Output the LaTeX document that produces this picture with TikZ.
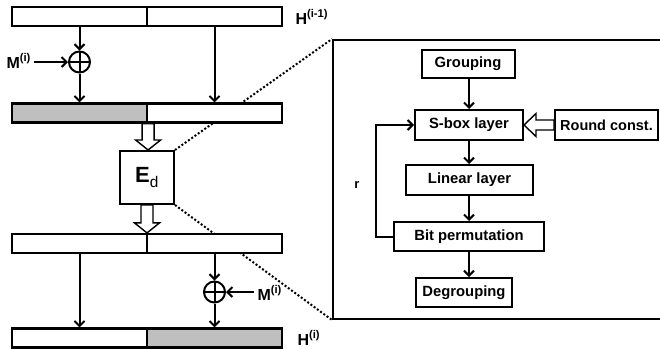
\documentclass[tikz,border=0pt]{standalone}
\usepackage{fontspec}
\setmainfont{Liberation Sans}
\usepackage{tikz}
\usetikzlibrary{arrows.meta, calc, backgrounds}

% hollow block arrows
\newcommand{\hollowdown}[2]{%
  \draw[hollow] let \p1=(#1), \p2=(#2) in
    (\x1-6pt,\y1) -- (\x1-6pt,\y2+10pt) -- (\x1-12.5pt,\y2+10pt) -- (\x1,\y2)
    -- (\x1+12.5pt,\y2+10pt) -- (\x1+6pt,\y2+10pt) -- (\x1+6pt,\y1) -- cycle;}
\newcommand{\hollowleft}[2]{%
  \draw[hollow] let \p1=(#1), \p2=(#2) in
    (\x1,\y1+5pt) -- (\x2+12pt,\y1+5pt) -- (\x2+12pt,\y1+11.5pt) -- (\x2,\y1)
    -- (\x2+12pt,\y1-11.5pt) -- (\x2+12pt,\y1-5pt) -- (\x1,\y1-5pt) -- cycle;}

\begin{document}
\begin{tikzpicture}[x=1pt, y=-1pt,
    every node/.style={font=\bfseries\fontsize{16}{18}\selectfont},
    half/.style={draw, line width=2.2pt, fill=white, minimum width=135pt, minimum height=19pt, inner sep=0pt},
    shaded/.style={half, fill=gray!50},
    xor/.style={draw, circle, line width=2pt, minimum size=21pt, inner sep=0pt,
      path picture={\draw[line width=2pt] (path picture bounding box.north) -- (path picture bounding box.south)
        (path picture bounding box.west) -- (path picture bounding box.east);}},
    blk/.style={draw, line width=2pt, fill=white, minimum height=30pt, inner sep=0pt,
      font=\bfseries\fontsize{14.8}{17}\selectfont},
    hollow/.style={draw, line width=1.4pt, fill=white, line join=miter},
    conn/.style={line width=2pt, -{Straight Barb[length=5pt,width=10pt]}},
    dots/.style={line width=2pt, dotted}]
  \useasboundingbox (0,0) rectangle (660,349);

  % chaining value bars
  \node[half] (h0l) at (79.5,16.5) {};
  \node[half] (h0r) at (214.5,16.5) {};
  \node[shaded] (s1l) at (79.5,113) {};
  \node[half] (s1r) at (214.5,113) {};
  \node[half] (s2l) at (79.5,243.5) {};
  \node[half] (s2r) at (214.5,243.5) {};
  \node[half] (h1l) at (79.5,338) {};
  \node[shaded] (h1r) at (214.5,338) {};

  \node[anchor=base west] (hin) at (292,24) {H\textsuperscript{(i-1)}};
  \node[anchor=base west] (hout) at (294,345) {H\textsuperscript{(i)}};

  % message injection
  \node[xor] (xin) at (79.5,62) {};
  \node[anchor=base west] (min) at (3,68) {M\textsuperscript{(i)}};
  \node[xor] (xout) at (214.5,292) {};
  \node[anchor=base west] (mout) at (254,300) {M\textsuperscript{(i)}};

  \draw[conn] (h0l.south) -- (xin.north);
  \draw[conn] (xin.south) -- (s1l.north);
  \draw[conn] (xin.west -| min.east) -- (xin.west);
  \draw[conn] (h0r.south) -- (s1r.north);
  \draw[conn] (s2l.south) -- (h1l.north);
  \draw[conn] (s2r.south) -- (xout.north);
  \draw[conn] (xout.south) -- (h1r.north);
  \draw[conn] (xout.east -| mout.west) -- (xout.east);

  % permutation E_d
  \node[draw, line width=2pt, fill=white, minimum width=54pt, minimum height=53pt, inner sep=0pt,
    font=\fontsize{22}{24}\selectfont] (ed) at (147,177.5) {\textbf{E}\textsubscript{d}};
  \hollowdown{s1l.south east}{ed.north}
  \hollowdown{ed.south}{s2l.south east |- s2l.north}

  % zoomed view of E_d
  \node[draw, line width=2pt, minimum width=330pt, minimum height=279pt] (detail) at (498,179.5) {};
  \begin{scope}[on background layer]
    \draw[dots] (ed.north east) -- (detail.north west);
    \draw[dots] (ed.south east) -- (detail.south west);
  \end{scope}

  \node[blk, minimum width=93pt, minimum height=28pt] (grp) at (468,64) {Grouping};
  \node[blk, minimum width=108pt] (sbox) at (469,125) {S-box layer};
  \node[blk, minimum width=103pt, font=\bfseries\fontsize{14.5}{17}\selectfont] (rconst) at (606.5,125) {Round const.};
  \node[blk, minimum width=127pt] (lin) at (469.5,180) {Linear layer};
  \node[blk, minimum width=150pt, minimum height=29pt] (bitp) at (469,236.5) {Bit permutation};
  \node[blk, minimum width=96pt, minimum height=29pt] (degr) at (464,292.5) {Degrouping};
  \node[font=\bfseries\fontsize{13}{15}\selectfont] (rounds) at (357,185) {r};

  \draw[conn] (grp.south -| sbox.north) -- (sbox.north);
  \draw[conn] (sbox.south) -- (sbox.south |- lin.north);
  \draw[conn] (sbox.south |- lin.south) -- (sbox.south |- bitp.north);
  \draw[conn] (sbox.south |- bitp.south) -- (sbox.south |- degr.north);
  \draw[conn] (bitp.west) -- ++(-17,0) |- (sbox.west);
  \hollowleft{rconst.west}{sbox.east}

\end{tikzpicture}
\end{document}
